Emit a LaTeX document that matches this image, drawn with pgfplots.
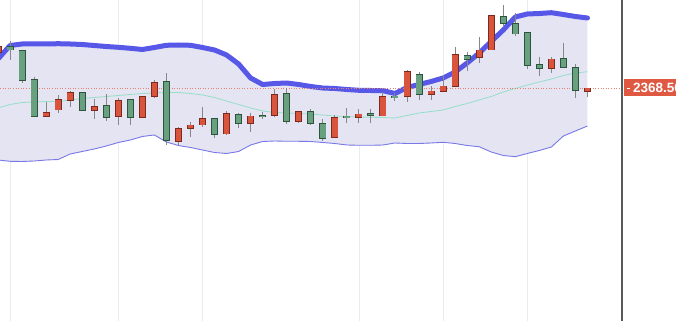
\documentclass[border=0pt]{standalone}
\usepackage{pgfplots}
\usepackage{pgfplotstable}
\usepackage{fontspec}
\setmainfont{Liberation Sans}
\pgfplotsset{compat=1.18}
\usepgfplotslibrary{fillbetween}

\definecolor{upfill}{RGB}{217,84,60}
\definecolor{upedge}{RGB}{125,42,30}
\definecolor{dnfill}{RGB}{104,160,128}
\definecolor{dnedge}{RGB}{45,85,62}
\definecolor{wickc}{RGB}{135,135,135}
\definecolor{bandfill}{RGB}{228,228,242}
\definecolor{bandup}{RGB}{88,88,232}
\definecolor{banddn}{RGB}{120,120,232}
\definecolor{midc}{RGB}{150,222,200}
\definecolor{gridc}{RGB}{230,237,242}
\definecolor{lastc}{RGB}{222,88,66}
\definecolor{vlinec}{RGB}{90,90,90}

% up candles (red): i open high low close
\pgfplotstableread{
i o h l c
0 2404.6 2412.6 2402.6 2409.9
4 2340.6 2354.6 2339.3 2343.9
5 2346.6 2361.6 2343.3 2356.6
6 2356.6 2365.9 2349.3 2363.9
8 2346.6 2357.3 2337.3 2349.9
10 2339.9 2358.3 2331.6 2355.9
12 2339.3 2360.6 2339.3 2359.9
13 2359.9 2376.6 2358.3 2373.9
15 2314.9 2329.9 2311.6 2328.3
16 2328.3 2334.9 2319.9 2331.6
17 2331.6 2349.3 2329.3 2337.6
19 2322.6 2345.9 2321.6 2342.6
21 2333.3 2343.9 2324.9 2340.6
23 2341.3 2367.3 2339.9 2362.3
25 2334.9 2345.6 2333.3 2344.9
28 2318.9 2341.6 2318.6 2339.3
30 2339.3 2347.3 2333.9 2342.6
32 2340.6 2364.9 2340.6 2359.9
34 2360.6 2386.6 2354.9 2384.9
36 2362.3 2370.6 2356.6 2365.6
37 2364.9 2381.6 2364.9 2370.6
38 2370.6 2409.3 2370.6 2402.3
40 2399.3 2419.3 2393.3 2406.6
41 2406.6 2440.6 2406.6 2440.6
46 2388.3 2399.9 2383.9 2397.6
49 2364.9 2368.8 2359.9 2368.56
}\upT

% down candles (green): i open high low close
\pgfplotstableread{
i o h l c
1 2409.9 2415.6 2396.6 2406.6
2 2405.9 2406.6 2373.9 2375.9
3 2376.6 2379.9 2339.9 2339.9
7 2363.9 2363.9 2345.6 2346.6
9 2350.9 2362.6 2335.6 2339.3
11 2356.6 2356.6 2331.6 2339.3
14 2374.9 2383.9 2311.6 2315.9
18 2338.3 2338.6 2318.3 2322.6
20 2341.6 2343.9 2328.3 2333.3
22 2341.3 2344.9 2337.3 2339.9
24 2363.3 2368.3 2332.3 2334.9
26 2344.9 2347.3 2331.6 2333.3
27 2333.3 2337.3 2315.6 2318.3
29 2340.6 2348.3 2333.9 2339.3
31 2343.3 2347.3 2333.9 2341.3
33 2360.6 2363.9 2355.9 2359.3
35 2382.3 2384.9 2356.6 2362.3
39 2400.9 2404.9 2385.6 2397.3
42 2439.9 2451.6 2429.9 2433.3
43 2433.3 2443.3 2420.6 2422.6
44 2423.9 2423.9 2387.3 2390.9
45 2392.3 2399.3 2380.6 2388.3
47 2397.6 2413.9 2389.3 2389.3
48 2389.3 2392.3 2358.3 2365.9
}\dnT

% bands: i upper middle lower
\pgfplotstableread{
i u m l
0 2397.6 2348.6 2296.6
1 2411.1 2352.1 2295.3
2 2412.6 2354.1 2295.1
3 2412.6 2354.6 2295.6
4 2412.6 2355.1 2296.6
5 2412.9 2355.1 2297.1
6 2412.6 2356.6 2302.6
7 2412.1 2358.1 2305.1
8 2411.1 2359.1 2307.6
9 2410.1 2360.1 2310.6
10 2409.3 2361.1 2314.1
11 2408.3 2362.1 2316.6
12 2407.1 2363.1 2320.1
13 2409.1 2363.6 2321.6
14 2411.3 2364.1 2314.6
15 2411.6 2364.1 2311.1
16 2411.3 2363.1 2309.1
17 2409.1 2361.6 2306.6
18 2406.6 2359.1 2304.1
19 2401.6 2355.6 2303.1
20 2392.6 2352.1 2305.1
21 2378.6 2348.6 2311.6
22 2372.1 2345.6 2315.1
23 2373.1 2344.1 2315.6
24 2373.6 2343.6 2315.3
25 2372.1 2343.1 2315.3
26 2370.1 2342.6 2315.1
27 2368.6 2341.6 2314.1
28 2368.1 2340.6 2313.1
29 2367.1 2340.1 2311.6
30 2366.3 2339.6 2311.3
31 2366.1 2339.3 2311.3
32 2365.9 2339.1 2311.6
33 2363.1 2338.6 2313.6
34 2369.1 2341.1 2313.1
35 2372.1 2343.6 2313.1
36 2375.1 2345.1 2313.6
37 2378.6 2346.6 2314.3
38 2384.6 2350.1 2313.1
39 2393.6 2353.1 2311.1
40 2403.6 2356.6 2309.9
41 2415.1 2360.1 2304.6
42 2426.6 2364.6 2301.1
43 2439.6 2368.1 2299.9
44 2442.6 2371.6 2303.1
45 2443.1 2374.6 2306.1
46 2443.9 2377.6 2309.6
47 2442.1 2381.1 2320.6
48 2440.1 2383.6 2325.6
49 2438.6 2384.9 2330.6
}\bandT

\pgfplotsset{
  candle/.style={only marks, mark=*, mark size=0.01pt, mark options={draw opacity=0, fill opacity=0}, forget plot,
    error bars/.cd, y dir=both, y explicit, error mark=none, error bar style={#1}},
}

\begin{document}
\begin{tikzpicture}
\begin{axis}[
  at={(0pt,0pt)}, anchor=south west,
  scale only axis, width=676pt, height=321pt,
  xmin=0.166, xmax=56.36, ymin=2135.6, ymax=2456.6,
  axis line style={draw=none},
  xtick={1,10,17,30,37,44}, xticklabels={},
  ytick=\empty,
  major tick length=0pt,
  tick style={draw=none},
  xmajorgrids,
  grid style={gridc, line width=0.8pt},
]
\addplot[name path=U, draw=none, forget plot] table[x=i,y=u]{\bandT};
\addplot[name path=L, draw=none, forget plot] table[x=i,y=l]{\bandT};
\addplot[bandfill, forget plot] fill between[of=U and L];
\addplot[midc, line width=0.8pt, forget plot] table[x=i,y=m]{\bandT};
\addplot[banddn, line width=0.9pt, line join=round, forget plot] table[x=i,y=l]{\bandT};
\addplot[bandup, line width=5pt, line join=round, line cap=round, forget plot] table[x=i,y=u]{\bandT};

\draw[lastc!75, dotted, line width=0.6pt] (axis cs:0.166,2368.56) -- (axis cs:51.87,2368.56);

% wicks
\addplot[candle={wickc, line width=1pt}]
  table[x=i, y expr={(\thisrow{h}+\thisrow{l})/2}, y error expr={(\thisrow{h}-\thisrow{l})/2}]{\upT};
\addplot[candle={wickc, line width=1pt}]
  table[x=i, y expr={(\thisrow{h}+\thisrow{l})/2}, y error expr={(\thisrow{h}-\thisrow{l})/2}]{\dnT};
% bodies: edge
\addplot[candle={upedge, line width=7pt}]
  table[x=i, y expr={(\thisrow{o}+\thisrow{c})/2}, y error expr={abs(\thisrow{c}-\thisrow{o})/2+0.5}]{\upT};
\addplot[candle={dnedge, line width=7pt}]
  table[x=i, y expr={(\thisrow{o}+\thisrow{c})/2}, y error expr={abs(\thisrow{c}-\thisrow{o})/2+0.5}]{\dnT};
% bodies: fill
\addplot[candle={upfill, line width=5.4pt}]
  table[x=i, y expr={(\thisrow{o}+\thisrow{c})/2}, y error expr={max(abs(\thisrow{c}-\thisrow{o})/2-0.3,0)}]{\upT};
\addplot[candle={dnfill, line width=5.4pt}]
  table[x=i, y expr={(\thisrow{o}+\thisrow{c})/2}, y error expr={max(abs(\thisrow{c}-\thisrow{o})/2-0.3,0)}]{\dnT};

\draw[vlinec, line width=1.3pt] (rel axis cs:0.9201,0) -- (rel axis cs:0.9201,1);
\end{axis}
\fill[lastc] (624pt,224.5pt) rectangle (680pt,241.5pt);
\draw[white, line width=0.8pt] (626.5pt,233pt) -- (630pt,233pt);
\node[anchor=west, text=white, inner sep=0pt, font=\fontsize{13.5}{15}\selectfont\bfseries] at (633pt,233pt) {2368.56};
\pgfresetboundingbox
\path[use as bounding box] (0pt,0pt) rectangle (676pt,321pt);
\end{tikzpicture}
\end{document}
